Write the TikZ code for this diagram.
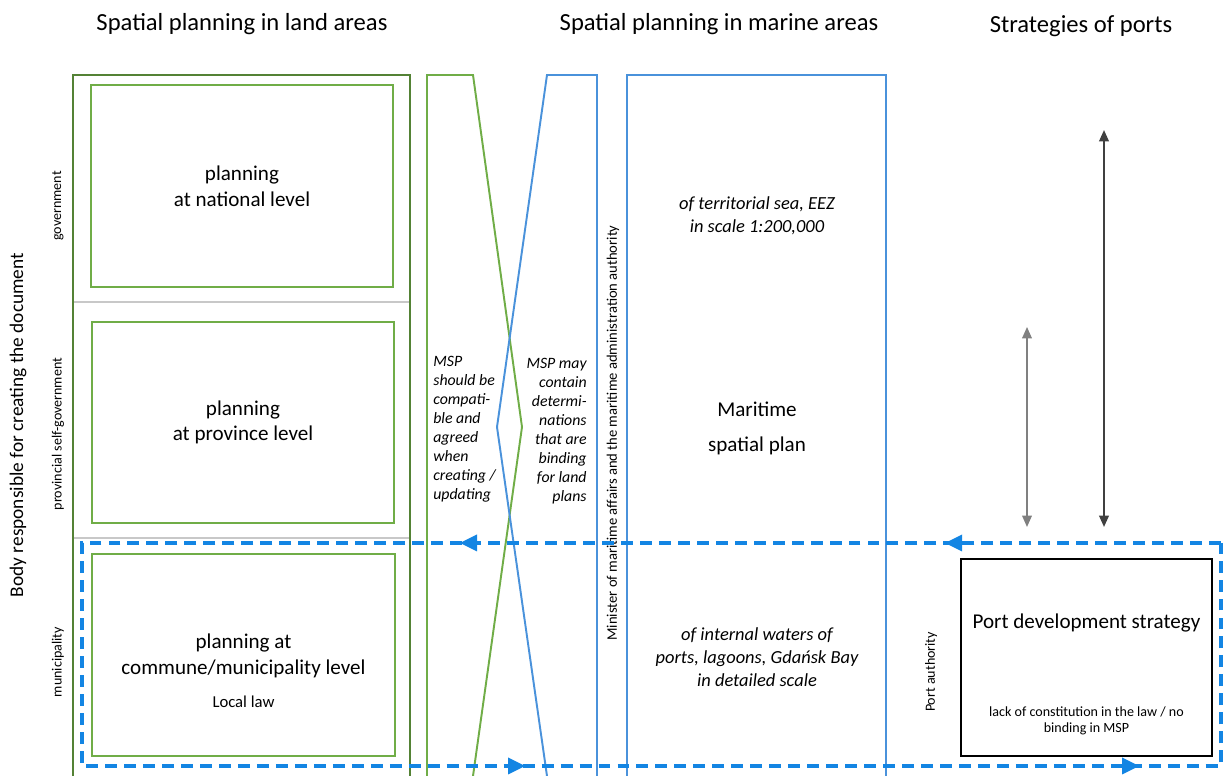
\documentclass[tikz,border=0pt]{standalone}
\usepackage{fontspec}
\setmainfont{Carlito}
\usetikzlibrary{arrows.meta}
\definecolor{dgreen}{HTML}{548235}
\definecolor{lgreen}{HTML}{70AD47}
\definecolor{mblue}{HTML}{4A92DB}
\definecolor{dblue}{HTML}{1385E3}
\definecolor{sepgray}{HTML}{C8C8C8}
\definecolor{agray}{HTML}{808080}
\definecolor{adark}{HTML}{404040}
\tikzset{
  title/.style={font=\fontsize{14}{17}\selectfont, anchor=base, inner sep=0pt},
  side/.style={font=\fontsize{8}{9.6}\selectfont, rotate=90, inner sep=0pt},
  gbox/.style={draw=lgreen, line width=1.2pt, inner sep=0pt},
  pbox/.style={draw=black, line width=1.2pt, inner sep=0pt},
  boxtext/.style={font=\fontsize{12}{14.6}\selectfont, align=center, inner sep=0pt},
  ital/.style={font=\fontsize{10.5}{13}\selectfont\itshape, align=center, inner sep=0pt},
  msptext/.style={font=\fontsize{9}{10.8}\selectfont\itshape, inner sep=0pt},
  smalltext/.style={font=\fontsize{8}{9.2}\selectfont, align=center, inner sep=0pt},
  landline/.style={draw=dgreen, line width=1.2pt},
  greenline/.style={draw=lgreen, line width=1.1pt},
  blueline/.style={draw=mblue, line width=1.1pt},
  loopline/.style={draw=dblue, line width=1.8pt, dash pattern=on 6.8pt off 4pt},
  seprule/.style={draw=sepgray, line width=0.6pt},
  vdark/.style={draw=adark, line width=1.1pt, {Triangle[length=6.5pt,width=5.5pt]}-{Triangle[length=6.5pt,width=5.5pt]}},
  vgray/.style={draw=agray, line width=0.9pt, {Triangle[length=6.5pt,width=5.5pt]}-{Triangle[length=6.5pt,width=5.5pt]}},
}
\begin{document}
\begin{tikzpicture}[x=0.02cm,y=-0.02cm]
\useasboundingbox (0,0) rectangle (1225,776);
\clip (0,0) rectangle (1225,776);

% titles
\node[title] (t1) at (242,31) {Spatial planning in land areas};
\node[title] (t2) at (719,31) {Spatial planning in marine areas};
\node[title] (t3) at (1081,33) {Strategies of ports};

% left side labels
\node[side, font=\fontsize{11}{13}\selectfont] (body) at (18,425) {Body responsible for creating the document};
\node[side] (gov) at (58,206) {government};
\node[side] (prov) at (58,434) {provincial self-government};
\node[side] (mun) at (58,662) {municipality};

% land area frame
\draw[landline] (73,776) -- (73,75) -- (410,75) -- (410,776);
\draw[seprule] (74,302) -- (409,302);
\draw[seprule] (74,538) -- (409,538);

\node[gbox, minimum width=6.04cm, minimum height=4.04cm] (nat) at (242,186) {};
\node[boxtext] at (nat.center) {planning\\at national level};
\node[gbox, minimum width=6.04cm, minimum height=4.02cm] (prv) at (243,422.5) {};
\node[boxtext] at (prv.center) {planning\\at province level};
\node[gbox, minimum width=6.06cm, minimum height=4.04cm] (com) at (243.5,655) {};
\node[boxtext] (comtext) at (243.5,656) {planning at\\commune/municipality level};
\node[font=\fontsize{9.5}{11}\selectfont, inner sep=0pt] (law) at (243.5,702) {Local law};

% crossing polygons
\draw[greenline] (427,776) -- (427,75) -- (473,75) -- (522,427) -- (473,776);
\draw[blueline] (547,776) -- (497,427) -- (547,75) -- (597,75) -- (597,776);
\node[msptext, align=left, anchor=west] (msp1) at (433,429) {MSP\\should be\\compati-\\ble and\\agreed\\when\\creating /\\updating};
\node[msptext, align=right, anchor=east] (msp2) at (587,431) {MSP may\\contain\\determi-\\nations\\that are\\binding\\for land\\plans};

% minister label
\node[side, font=\fontsize{8.3}{10}\selectfont] (min) at (613,433) {Minister of maritime affairs and the maritime administration authority};

% maritime plan frame
\draw[blueline] (627,776) -- (627,75) -- (886,75) -- (886,776);
\node[ital] (terr) at (757,216) {of territorial sea, EEZ\\in scale 1:200,000};
\node[boxtext, font=\fontsize{12}{20}\selectfont] (msp) at (757,428) {Maritime\\spatial plan};
\node[ital, font=\fontsize{10.5}{13.2}\selectfont\itshape] (intw) at (757,657) {of internal waters of\\ports, lagoons, Gdańsk Bay\\in detailed scale};

% vertical arrows
\coordinate (a1t) at (1027,327);
\coordinate (a1b) at (1027,527);
\coordinate (a2t) at (1104,130);
\coordinate (a2b) at (1104,527);
\draw[vgray] (a1t) -- (a1b);
\draw[vdark] (a2t) -- (a2b);

% port box
\node[side] (pa) at (931,672) {Port authority};
\node[pbox, minimum width=5.02cm, minimum height=3.94cm] (port) at (1086.5,657.5) {};
\node[boxtext] (pds) at (1086.5,623) {Port development strategy};
\node[smalltext] (lack) at (1086.5,721) {lack of constitution in the law / no\\binding in MSP};

% dashed loop
\coordinate (dTR) at (1221,543);
\coordinate (dTL) at (82,543);
\coordinate (dBL) at (82,766);
\coordinate (dBR) at (1221,766);
\draw[loopline] (dTR) -- (dTL) -- (dBL) -- (dBR) -- cycle;
\fill[dblue] (460,543) -- (477,534.5) -- (477,551.5) -- cycle;
\fill[dblue] (945,543) -- (962,534.5) -- (962,551.5) -- cycle;
\fill[dblue] (525,766) -- (508,757.5) -- (508,774.5) -- cycle;
\fill[dblue] (1139,766) -- (1122,757.5) -- (1122,774.5) -- cycle;
\end{tikzpicture}
\end{document}
